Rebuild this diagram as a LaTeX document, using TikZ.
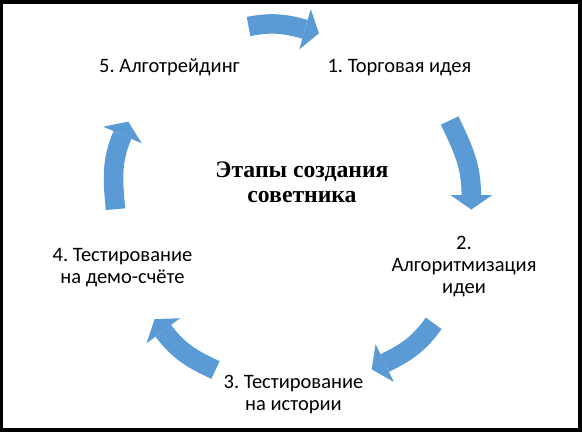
\documentclass[tikz,border=0pt]{standalone}
\usepackage{fontspec}
\setmainfont{Carlito}
\newfontfamily\titlefont{Liberation Serif}
\usetikzlibrary{calc}
\definecolor{arrowblue}{HTML}{5B9BD5}
\frenchspacing
\begin{document}
\begin{tikzpicture}[x=1bp,y=1bp,
  lbl/.style={font=\frenchspacing\fontsize{20.5bp}{22bp}\selectfont, align=center, inner sep=0pt, anchor=base},
  ttl/.style={font=\titlefont\bfseries\fontsize{23.7bp}{24.5bp}\selectfont, align=center, inner sep=0pt, anchor=base},
  shaft/.style={draw=arrowblue, line width=19.5bp},
  head/.style={fill=arrowblue}]
\fill[black] (0,0) rectangle (582,432);
\fill[white] (3,4) rectangle (578,428);
\useasboundingbox (0,0) rectangle (582,432);

% labels (base anchor = baseline of the last line)
\node[lbl] (n1) at (399.5,360) {1. Торговая идея};
\node[lbl] (n5) at (169.5,360) {5. Алготрейдинг};
\node[lbl] (n2) at (464,139) {2.\\Алгоритмизация\\идеи};
\node[lbl] (n4) at (122.5,149) {4. Тестирование\\на демо-счёте};
\node[lbl] (n3) at (293.5,21.5) {3. Тестирование\\на истории};
\node[ttl] (title) at (302,230) {Этапы создания\\советника};

% arrow 1 (5 -> 1)
\coordinate (t1) at (248.5,405.5);
\coordinate (b1) at (305,402.7);
\draw[shaft] (t1) to[out=11,in=164.1] (b1);
\fill[head] ($(b1)+(74.1:21)$) -- ($(b1)+(-15.9:14.5)$) -- ($(b1)+(-105.9:21)$) -- cycle;

% arrow 2 (1 -> 2)
\coordinate (t2) at (449.7,311.5);
\coordinate (b2) at (471.3,237);
\draw[shaft] (t2) to[out=-65,in=90] (b2);
\fill[head] ($(b2)+(0:21)$) -- ($(b2)+(-90:14.5)$) -- ($(b2)+(180:21)$) -- cycle;

% arrow 3 (2 -> 3)
\coordinate (t3) at (433.7,108.7);
\coordinate (b3) at (384.7,69);
\draw[shaft] (t3) to[out=-125.5,in=25.7] (b3);
\fill[head] ($(b3)+(-64.3:21)$) -- ($(b3)+(-154.3:14.5)$) -- ($(b3)+(115.7:21)$) -- cycle;

% arrow 4 (3 -> 4)
\coordinate (t4) at (215.5,62);
\coordinate (b4) at (163.3,101.2);
\draw[shaft] (t4) to[out=155.4,in=-53.1] (b4);
\fill[head] ($(b4)+(216.9:21)$) -- ($(b4)+(126.9:14.5)$) -- ($(b4)+(36.9:21)$) -- cycle;

% arrow 5 (4 -> 5)
\coordinate (t5) at (115.5,222.8);
\coordinate (b5) at (122.5,297);
\draw[shaft] (t5) to[out=95.1,in=-113.4] (b5);
\fill[head] ($(b5)+(156.6:21)$) -- ($(b5)+(66.6:14.5)$) -- ($(b5)+(-23.4:21)$) -- cycle;
\end{tikzpicture}
\end{document}
